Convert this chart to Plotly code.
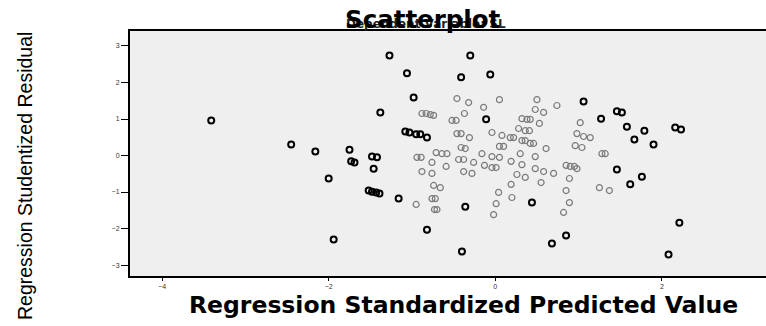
import plotly.graph_objects as go

# Outer (darker rendered) points: standardized predicted value, studentized residual
x_dark = [-3.41, -2.45, -2.16, -1.75, -1.48, -1.42, -1.73, -1.69, -1.46, -2.00,
          -1.52, -1.48, -1.43, -1.39, -1.94, -1.16, -0.82, -1.27, -1.06, -0.98,
          -1.38, -1.08, -1.03, -0.95, -0.90, -0.82, -0.30, -0.41, -0.06, -0.11,
          1.06, 1.27, 1.46, 1.52, 1.58, 1.79, 1.67, 1.90, 2.16, 2.23,
          -0.36, 0.44, -0.40, 0.68, 0.85, 1.46, 1.76, 1.62, 2.21, 2.08]
y_dark = [0.96, 0.30, 0.11, 0.16, -0.03, -0.05, -0.16, -0.19, -0.36, -0.63,
          -0.96, -0.99, -1.01, -1.04, -2.30, -1.18, -2.03, 2.74, 2.25, 1.59,
          1.18, 0.66, 0.63, 0.58, 0.58, 0.49, 2.74, 2.14, 2.22, 0.99,
          1.48, 1.01, 1.21, 1.18, 0.79, 0.68, 0.44, 0.30, 0.77, 0.71,
          -1.40, -1.29, -2.63, -2.41, -2.19, -0.38, -0.58, -0.79, -1.84, -2.71]

# Inner (lighter rendered) points
x_light = [-0.88, -0.83, -0.78, -0.74, -0.46, -0.32, -0.14, 0.05, 0.50, 0.74,
           -0.37, 0.48, 0.58, -0.52, -0.47, 0.32, 0.38, 0.42, 0.53, 1.02,
           -0.46, -0.41, -0.31, -0.04, 0.08, 0.18, 0.22, 0.32, 0.36, 0.42,
           0.46, 0.28, 0.36, 0.41, 0.98, 1.06, 1.14, -0.41, -0.36, 0.05,
           0.10, 0.61, 0.96, 1.04, -0.16, -0.04, 0.05, 0.30, 0.48, 1.28,
           1.32, -0.71, -0.64, -0.58, -0.94, -0.89, -0.76, -0.59, -0.44, -0.38,
           -0.26, -0.13, -0.04, 0.01, 0.19, 0.32, -0.38, -0.28, 0.48, 0.58,
           0.70, 0.85, 0.90, 0.95, 0.98, 0.26, 0.36, 0.55, 0.89, 0.19,
           0.85, 1.25, 1.37, 0.04, 0.20, 0.89, 0.01, 0.82, -0.02, -0.88,
           -0.76, -0.74, -0.66, -0.76, -0.72, -0.95, -0.73, -0.70]
y_light = [1.15, 1.15, 1.12, 1.10, 1.56, 1.45, 1.32, 1.53, 1.53, 1.37,
           1.15, 1.26, 1.18, 0.96, 0.96, 1.01, 0.99, 0.99, 0.88, 0.90,
           0.60, 0.60, 0.49, 0.63, 0.55, 0.49, 0.49, 0.41, 0.41, 0.33,
           0.33, 0.74, 0.68, 0.68, 0.60, 0.52, 0.49, 0.22, 0.19, 0.25,
           0.25, 0.19, 0.27, 0.22, 0.05, -0.03, -0.05, 0.05, -0.03, 0.05,
           0.05, 0.08, 0.05, 0.05, -0.05, -0.05, -0.19, -0.30, -0.11, -0.11,
           -0.19, -0.27, -0.33, -0.33, -0.16, -0.25, -0.44, -0.49, -0.36, -0.44,
           -0.49, -0.27, -0.30, -0.30, -0.36, -0.52, -0.60, -0.74, -0.63, -0.79,
           -0.96, -0.88, -0.96, -1.01, -1.15, -1.29, -1.32, -1.56, -1.62, -0.44,
           -0.49, -0.82, -0.88, -1.18, -1.18, -1.34, -1.48, -1.48]

x_ticks = [-4, -2, 0, 2]
y_ticks = [-3, -2, -1, 0, 1, 2, 3]

title_text = "Scatterplot"
subtitle_text = "Dependent Variable: SL"
x_title = "Regression Standardized Predicted Value"
y_title = "Regression Studentized Residual"

FONT = "Liberation Sans, Arial, sans-serif"
WIDE = "DejaVu Sans, Liberation Sans, sans-serif"

fig = go.Figure()
fig.add_trace(go.Scatter(
    x=x_light, y=y_light, mode="markers",
    marker=dict(symbol="circle-open", size=6, color="#7a7a7a", line=dict(width=1.2, color="#7a7a7a")),
    showlegend=False, hoverinfo="skip"))
fig.add_trace(go.Scatter(
    x=x_dark, y=y_dark, mode="markers",
    marker=dict(symbol="circle-open", size=6, color="#000000", line=dict(width=2, color="#000000")),
    showlegend=False, hoverinfo="skip"))

L, R, T, B = 130, 0, 31, 50
W, H = 766, 326
pw, ph = W - L - R, H - T - B


def px(x):
    return (x - L) / pw


def py(y_from_top):
    return (H - y_from_top - B) / ph


fig.update_layout(
    width=W, height=H,
    margin=dict(l=L, r=R, t=T, b=B, autoexpand=False),
    paper_bgcolor="white",
    plot_bgcolor="#efefef",
    font=dict(family=FONT, color="#000"),
    xaxis=dict(range=[-4.385, 3.25], tickvals=x_ticks, ticks="outside", ticklen=3,
               tickwidth=1, tickcolor="#000", showgrid=False, zeroline=False,
               showline=True, linecolor="#000", linewidth=2, mirror=True,
               tickfont=dict(size=7, color="#333"), fixedrange=True),
    yaxis=dict(range=[-3.30, 3.41], tickvals=y_ticks, ticks="outside", ticklen=7,
               tickwidth=1, tickcolor="#000", showgrid=False, zeroline=False,
               showline=True, linecolor="#000", linewidth=2, mirror=False,
               tickfont=dict(size=7, color="#333"), fixedrange=True),
    annotations=[
        dict(text="<b>" + subtitle_text + "</b>", x=px(426), y=py(33), xref="paper", yref="paper",
             showarrow=False, font=dict(size=12, color="#222", family=WIDE),
             xanchor="center", yanchor="bottom"),
        dict(text="<b>" + title_text + "</b>", x=px(423), y=py(36), xref="paper", yref="paper",
             showarrow=False, font=dict(size=24.5, color="#000", family=WIDE),
             xanchor="center", yanchor="bottom"),
        dict(text="<b>" + x_title + "</b>", x=px(463), y=py(321), xref="paper", yref="paper",
             showarrow=False, font=dict(size=23.5, color="#000", family=WIDE),
             xanchor="center", yanchor="bottom"),
        dict(text=y_title, x=px(25), y=py(176), xref="paper", yref="paper",
             showarrow=False, font=dict(size=19.5, color="#000", family=FONT),
             textangle=-90, xanchor="center", yanchor="middle"),
    ],
)

fig.write_html("out.html", config={"displayModeBar": False},
               post_script="document.body.style.margin='0';document.body.style.overflow='hidden';")
